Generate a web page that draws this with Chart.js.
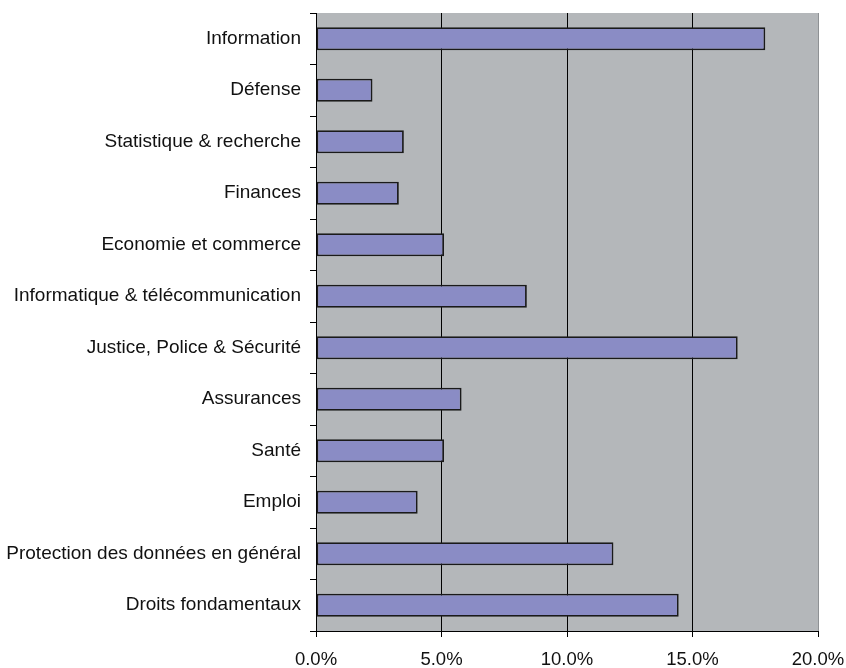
<!DOCTYPE html>
<html>
<head>
<meta charset="utf-8">
<script src="https://cdn.jsdelivr.net/npm/chart.js@4.4.1/dist/chart.umd.min.js"></script>
<style>
  html, body { margin: 0; padding: 0; background: #fff; }
  #wrap { width: 846px; height: 668px; }
</style>
</head>
<body>
<div id="wrap"><canvas id="chart" width="846" height="668"></canvas></div>
<script>
// categories, top to bottom
const domains = [
  'Information',
  'Défense',
  'Statistique & recherche',
  'Finances',
  'Economie et commerce',
  'Informatique & télécommunication',
  'Justice, Police & Sécurité',
  'Assurances',
  'Santé',
  'Emploi',
  'Protection des données en général',
  'Droits fondamentaux'
];
// share of requests, in percent
const shares = [17.9, 2.25, 3.5, 3.3, 5.1, 8.4, 16.8, 5.8, 5.1, 4.05, 11.85, 14.45];
const xTicks = [0, 5, 10, 15, 20];

// grey plot area like the old spreadsheet charts
const plotBg = {
  id: 'plotBg',
  beforeDraw(chart) {
    const a = chart.chartArea, c = chart.ctx;
    c.save();
    c.fillStyle = '#b4b7ba';
    c.fillRect(a.left, a.top, a.right - a.left, a.bottom - a.top);
    c.restore();
  }
};

new Chart(document.getElementById('chart'), {
  type: 'bar',
  data: {
    labels: domains,
    datasets: [{
      data: shares,
      backgroundColor: '#8a8cc5',
      borderColor: '#1a1a1a',
      borderWidth: 1.8,
      borderSkipped: false,
      categoryPercentage: 1,
      barPercentage: 0.45
    }]
  },
  options: {
    indexAxis: 'y',
    responsive: false,
    animation: false,
    layout: { padding: { top: 13, right: 28, left: 0, bottom: 0 } },
    plugins: { legend: { display: false }, tooltip: { enabled: false } },
    scales: {
      x: {
        min: 0,
        max: 20,
        afterBuildTicks(s) { s.ticks = xTicks.map(v => ({ value: v })); },
        afterFit(s) {
          // fixed axis band, let the layout padding handle the edge labels
          s.height = 37;
          s.paddingLeft = 0;
          s.paddingRight = 0;
        },
        border: { color: '#000', width: 1 },
        grid: {
          color: ctx => (ctx.tick && ctx.tick.value === 20) ? '#8e9194' : '#000',
          tickColor: '#000',
          tickLength: 6,
          lineWidth: 1
        },
        ticks: {
          padding: 12,
          color: '#111',
          font: { family: 'Liberation Sans', size: 18.5 },
          callback: v => Number(v).toFixed(1) + '%'
        }
      },
      y: {
        afterFit(s) {
          s.width = 316;
          s.paddingTop = 0;
          s.paddingBottom = 0;
        },
        border: { color: '#000', width: 1 },
        grid: {
          offset: true,
          drawOnChartArea: false,
          color: '#000',
          tickLength: 6
        },
        ticks: {
          padding: 9,
          color: '#111',
          font: { family: 'Liberation Sans', size: 19 }
        }
      }
    }
  },
  plugins: [plotBg]
});
</script>
</body>
</html>
